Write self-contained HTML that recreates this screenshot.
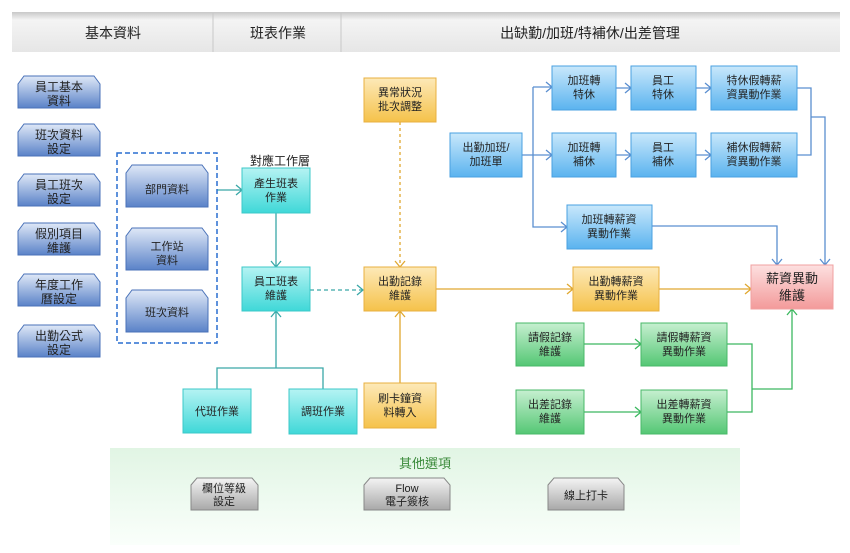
<!DOCTYPE html>
<html><head><meta charset="utf-8"><style>
body{margin:0;background:#fff}
svg text{font-family:"Liberation Sans","Noto Sans CJK TC",sans-serif;fill:#222}
</style></head><body>
<svg width="850" height="548" viewBox="0 0 850 548" xmlns="http://www.w3.org/2000/svg">
<defs>
<linearGradient id="hd" x1="0" y1="0" x2="0" y2="1"><stop offset="0" stop-color="#c8c8c8"/><stop offset=".2" stop-color="#f4f4f4"/><stop offset="1" stop-color="#e6e6e6"/></linearGradient>
<linearGradient id="db" x1="0" y1="0" x2="0" y2="1"><stop offset="0" stop-color="#dfe8f7"/><stop offset="1" stop-color="#5a82c8"/></linearGradient>
<linearGradient id="tl" x1="0" y1="0" x2="0" y2="1"><stop offset="0" stop-color="#b5f3f3"/><stop offset="1" stop-color="#3fd8d8"/></linearGradient>
<linearGradient id="or" x1="0" y1="0" x2="0" y2="1"><stop offset="0" stop-color="#fde9b8"/><stop offset="1" stop-color="#f5c24a"/></linearGradient>
<linearGradient id="lb" x1="0" y1="0" x2="0" y2="1"><stop offset="0" stop-color="#c9e8fb"/><stop offset="1" stop-color="#5ab3ef"/></linearGradient>
<linearGradient id="gr" x1="0" y1="0" x2="0" y2="1"><stop offset="0" stop-color="#c6efd0"/><stop offset="1" stop-color="#54c774"/></linearGradient>
<linearGradient id="pk" x1="0" y1="0" x2="0" y2="1"><stop offset="0" stop-color="#fde0e0"/><stop offset="1" stop-color="#f39a9a"/></linearGradient>
<linearGradient id="gy" x1="0" y1="0" x2="0" y2="1"><stop offset="0" stop-color="#f4f4f4"/><stop offset="1" stop-color="#a8a8a8"/></linearGradient>
<linearGradient id="pn" x1="0" y1="0" x2="0" y2="1"><stop offset="0" stop-color="#e1f5e4"/><stop offset="1" stop-color="#fafffb"/></linearGradient>
</defs>
<!-- header -->
<rect x="12" y="12" width="828" height="40" fill="url(#hd)"/>
<line x1="213" y1="13" x2="213" y2="52" stroke="#c8c8c8"/>
<line x1="341" y1="13" x2="341" y2="52" stroke="#c8c8c8"/>
<g font-size="14" text-anchor="middle">
<text x="113" y="38">基本資料</text><text x="278" y="38">班表作業</text><text x="590" y="38">出缺勤/加班/特補休/出差管理</text></g>
<!-- bottom panel -->
<rect x="110" y="448" width="630" height="97" fill="url(#pn)"/>
<text x="425" y="468" font-size="13" text-anchor="middle" style="fill:#3a8a3a">其他選項</text>
<!-- connectors -->
<g fill="none" stroke-width="1.3">
<g stroke="#3aa8a8">
<path d="M217 190H242M236 185l6 5-6 5"/>
<path d="M276 213V267M271 261l5 6 5-6"/>
<path d="M217 389V368H323V389M276 368V311M271 317l5-6 5 6"/>
<path d="M310 290H363" stroke-dasharray="4 3"/><path d="M357 285l6 5-6 5"/>
</g>
<g stroke="#e0a830">
<path d="M400 122V267" stroke-dasharray="3 3"/><path d="M395 261l5 6 5-6"/>
<path d="M400 383V311M395 317l5-6 5 6"/>
<path d="M436 289H573M567 284l6 5-6 5M659 289H751M745 284l6 5-6 5"/>
</g>
<g stroke="#5b8fd0">
<path d="M522 155H552M533 87V227H567M533 87H552"/>
<path d="M546 82l6 5-6 5M546 150l6 5-6 5M561 222l6 5-6 5"/>
<path d="M616 88H631M625 83l6 5-6 5M696 88H711M705 83l6 5-6 5"/>
<path d="M616 155H631M625 150l6 5-6 5M696 155H711M705 150l6 5-6 5"/>
<path d="M797 88H811V155H797M811 117H825V265M820 259l5 6 5-6"/>
<path d="M652 226H777V265M772 259l5 6 5-6"/>
</g>
<g stroke="#3cb860">
<path d="M584 344H641M635 339l6 5-6 5M584 412H641M635 407l6 5-6 5"/>
<path d="M727 344H752V412H727M752 389H792V309M787 315l5-6 5 6"/>
</g>
</g>
<rect x="117" y="153" width="100" height="190" fill="none" stroke="#2a6fd0" stroke-width="1.5" stroke-dasharray="5 3"/>
<text x="280" y="165" font-size="12" text-anchor="middle">對應工作層</text>
<!-- chamfered blue boxes -->
<g stroke="#4a72b8" fill="url(#db)">
<path d="M18 84l6-8h70l6 8v24H18z"/><path d="M18 132l6-8h70l6 8v24H18z"/><path d="M18 182l6-8h70l6 8v24H18z"/>
<path d="M18 231l6-8h70l6 8v24H18z"/><path d="M18 282l6-8h70l6 8v24H18z"/><path d="M18 333l6-8h70l6 8v24H18z"/>
<path d="M126 173l6-8h70l6 8v34H126z"/><path d="M126 236l6-8h70l6 8v34H126z"/><path d="M126 298l6-8h70l6 8v34H126z"/>
</g>
<g stroke="#888" fill="url(#gy)">
<path d="M191 485l6-7h55l6 7v25H191z"/><path d="M364 485l6-7h74l6 7v25H364z"/><path d="M548 485l6-7h64l6 7v25H548z"/>
</g>
<!-- rect boxes -->
<g stroke-width="1">
<g fill="url(#tl)" stroke="#3cc8c8"><rect x="242" y="168" width="68" height="45"/><rect x="242" y="267" width="68" height="44"/><rect x="183" y="389" width="68" height="44"/><rect x="289" y="389" width="68" height="45"/></g>
<g fill="url(#or)" stroke="#e8b040"><rect x="364" y="78" width="72" height="44"/><rect x="364" y="267" width="72" height="44"/><rect x="364" y="383" width="72" height="45"/><rect x="573" y="267" width="86" height="44"/></g>
<g fill="url(#lb)" stroke="#4aa0e0"><rect x="450" y="133" width="72" height="44"/><rect x="552" y="66" width="64" height="44"/><rect x="631" y="66" width="65" height="44"/><rect x="711" y="66" width="86" height="44"/><rect x="552" y="133" width="64" height="44"/><rect x="631" y="133" width="65" height="44"/><rect x="711" y="133" width="86" height="44"/><rect x="567" y="205" width="85" height="44"/></g>
<g fill="url(#gr)" stroke="#48b868"><rect x="516" y="323" width="68" height="43"/><rect x="641" y="323" width="86" height="43"/><rect x="516" y="390" width="68" height="44"/><rect x="641" y="390" width="86" height="44"/></g>
<rect x="751" y="265" width="82" height="44" fill="url(#pk)" stroke="#f0a0a0"/>
</g>
<!-- labels -->
<g font-size="12" text-anchor="middle">
<text x="59" y="91">員工基本</text><text x="59" y="105">資料</text>
<text x="59" y="139">班次資料</text><text x="59" y="153">設定</text>
<text x="59" y="189">員工班次</text><text x="59" y="203">設定</text>
<text x="59" y="238">假別項目</text><text x="59" y="252">維護</text>
<text x="59" y="289">年度工作</text><text x="59" y="303">曆設定</text>
<text x="59" y="340">出勤公式</text><text x="59" y="354">設定</text>
</g>
<g font-size="11" text-anchor="middle">
<text x="167" y="193">部門資料</text>
<text x="167" y="250">工作站</text><text x="167" y="264">資料</text>
<text x="167" y="316">班次資料</text>
<text x="276" y="187">產生班表</text><text x="276" y="201">作業</text>
<text x="276" y="285">員工班表</text><text x="276" y="299">維護</text>
<text x="217" y="415">代班作業</text><text x="323" y="415">調班作業</text>
<text x="400" y="96">異常狀況</text><text x="400" y="110">批次調整</text>
<text x="400" y="285">出勤記錄</text><text x="400" y="299">維護</text>
<text x="400" y="402">刷卡鐘資</text><text x="400" y="416">料轉入</text>
<text x="616" y="285">出勤轉薪資</text><text x="616" y="299">異動作業</text>
<text x="486" y="151">出勤加班/</text><text x="486" y="165">加班單</text>
<text x="584" y="84">加班轉</text><text x="584" y="98">特休</text>
<text x="663" y="84">員工</text><text x="663" y="98">特休</text>
<text x="754" y="84">特休假轉薪</text><text x="754" y="98">資異動作業</text>
<text x="584" y="151">加班轉</text><text x="584" y="165">補休</text>
<text x="663" y="151">員工</text><text x="663" y="165">補休</text>
<text x="754" y="151">補休假轉薪</text><text x="754" y="165">資異動作業</text>
<text x="609" y="223">加班轉薪資</text><text x="609" y="237">異動作業</text>
<text x="550" y="341">請假記錄</text><text x="550" y="355">維護</text>
<text x="684" y="341">請假轉薪資</text><text x="684" y="355">異動作業</text>
<text x="550" y="408">出差記錄</text><text x="550" y="422">維護</text>
<text x="684" y="408">出差轉薪資</text><text x="684" y="422">異動作業</text>
<text x="224" y="492">欄位等級</text><text x="224" y="505">設定</text>
<text x="407" y="492">Flow</text><text x="407" y="505">電子簽核</text>
<text x="586" y="499">線上打卡</text>
</g>
<text x="792" y="283" font-size="13" text-anchor="middle">薪資異動</text>
<text x="792" y="300" font-size="13" text-anchor="middle">維護</text>
</svg>
</body></html>
